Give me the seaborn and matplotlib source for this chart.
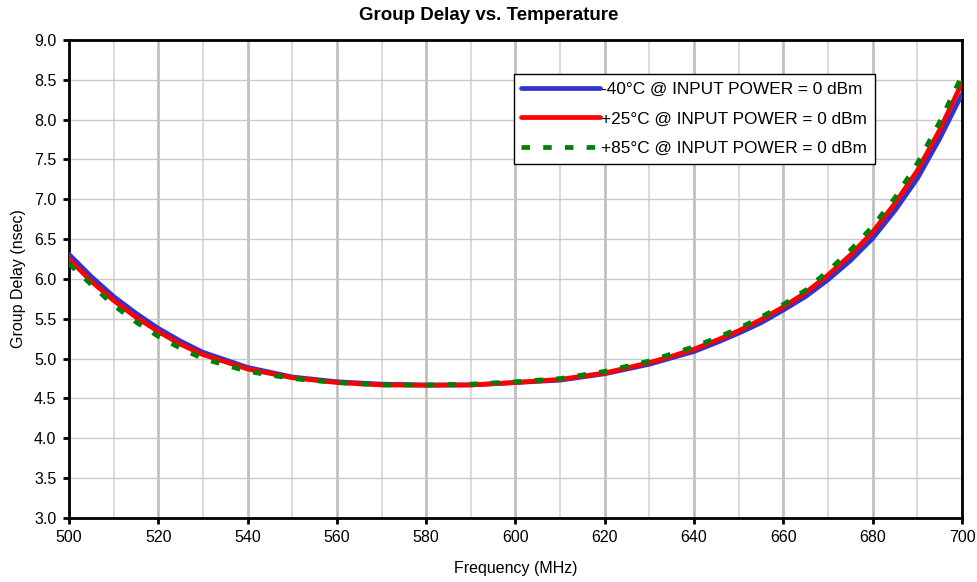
import numpy as np
import pandas as pd
import seaborn as sns
import matplotlib.pyplot as plt
from matplotlib.ticker import MultipleLocator, FormatStrFormatter

# Data (MHz, nsec)
freq_mhz = [500, 505, 510, 515, 520, 525, 530, 540, 550, 560, 570, 580, 590, 600,
            610, 620, 630, 635, 640, 645, 650, 655, 660, 665, 670, 675, 680, 685,
            690, 695, 700]
delay_m40 = [6.31, 6.03, 5.78, 5.57, 5.38, 5.22, 5.08, 4.89, 4.77, 4.71, 4.68, 4.67, 4.67, 4.70,
             4.73, 4.81, 4.93, 5.01, 5.09, 5.20, 5.32, 5.45, 5.61, 5.78, 5.99, 6.23, 6.51, 6.86,
             7.26, 7.76, 8.32]
delay_p25 = [6.25, 5.97, 5.73, 5.52, 5.34, 5.18, 5.05, 4.87, 4.76, 4.70, 4.67, 4.665, 4.67, 4.70,
             4.74, 4.82, 4.95, 5.03, 5.12, 5.23, 5.35, 5.49, 5.65, 5.83, 6.05, 6.30, 6.59, 6.95,
             7.36, 7.87, 8.46]
delay_p85 = [6.19, 5.93, 5.67, 5.46, 5.28, 5.13, 5.00, 4.84, 4.75, 4.70, 4.67, 4.67, 4.68, 4.71,
             4.75, 4.84, 4.97, 5.06, 5.15, 5.26, 5.38, 5.52, 5.68, 5.86, 6.10, 6.36, 6.66, 7.02,
             7.45, 7.97, 8.55]

labels = ["-40°C @ INPUT POWER = 0 dBm",
          "+25°C @ INPUT POWER = 0 dBm",
          "+85°C @ INPUT POWER = 0 dBm"]
colors = ["#3333cc", "#ff0000", "#008000"]

sns.set_theme(style="white")
plt.rcParams["font.family"] = ["Liberation Sans", "DejaVu Sans"]
plt.rcParams["text.color"] = "black"
plt.rcParams["axes.labelcolor"] = "black"
plt.rcParams["xtick.color"] = "black"
plt.rcParams["ytick.color"] = "black"

fig = plt.figure(figsize=(9.77, 5.82), dpi=100)
ax = fig.add_axes([0.0706, 0.110, 0.9140, 0.8213])

sns.lineplot(x=freq_mhz, y=delay_m40, ax=ax, color=colors[0], linewidth=3.4,
             label=labels[0], zorder=3)
sns.lineplot(x=freq_mhz, y=delay_p25, ax=ax, color=colors[1], linewidth=3.4,
             label=labels[1], zorder=4)
sns.lineplot(x=freq_mhz, y=delay_p85, ax=ax, color=colors[2], linewidth=3.4,
             linestyle=(0, (1.8, 2.8)), label=labels[2], zorder=5)

ax.set_xlim(500, 700)
ax.set_ylim(3.0, 9.0)
ax.xaxis.set_major_locator(MultipleLocator(20))
ax.xaxis.set_minor_locator(MultipleLocator(10))
ax.yaxis.set_major_locator(MultipleLocator(0.5))
ax.yaxis.set_major_formatter(FormatStrFormatter("%.1f"))

# grid: thick grey every 20 MHz, thin every 10 MHz, thin every 0.5 ns
ax.grid(which="major", axis="x", color="#c0c0c0", linewidth=2.0, zorder=0)
ax.grid(which="minor", axis="x", color="#d4d4d4", linewidth=1.2, zorder=0)
ax.grid(which="major", axis="y", color="#c8c8c8", linewidth=1.0, zorder=0)
ax.set_axisbelow(True)

for s in ax.spines.values():
    s.set_color("black")
    s.set_linewidth(2.0)

ax.tick_params(which="major", direction="out", length=4, width=2, color="black",
               labelcolor="black", labelsize=11.5, pad=5, bottom=True, left=True)
ax.tick_params(which="minor", length=0)

ax.set_xlabel("Frequency (MHz)", fontsize=11.5, labelpad=11)
ax.set_ylabel("Group Delay (nsec)", fontsize=11.5, labelpad=6)
fig.suptitle("Group Delay vs. Temperature", fontsize=13.5, fontweight="bold",
             x=0.5, y=0.974, va="center")

leg = ax.legend(loc="upper right", bbox_to_anchor=(0.9026, 0.9289), fontsize=12.4,
                handlelength=4.6, handletextpad=0.05, labelspacing=0.85,
                borderpad=0.45, borderaxespad=0, fancybox=False, framealpha=1,
                edgecolor="black")
leg.get_frame().set_linewidth(1.0)
for t in leg.get_texts():
    t.set_color("black")

fig.savefig("out.png", dpi=100)
